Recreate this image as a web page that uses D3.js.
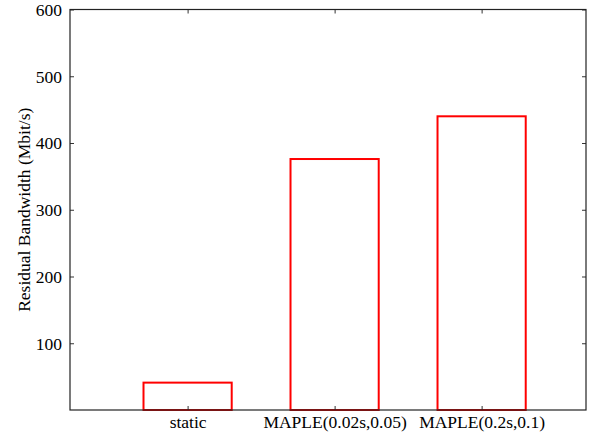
<!DOCTYPE html>
<html><head><meta charset="utf-8">
<script src="https://cdn.jsdelivr.net/npm/d3@7"></script>
<style>body{margin:0;background:#fff}svg{display:block}</style>
</head><body><svg id="c" width="592" height="434"></svg>
<script>
const categories = ["static", "MAPLE(0.02s,0.05)", "MAPLE(0.2s,0.1)"];
const values = [41, 376, 440];
const yTicks = [100, 200, 300, 400, 500, 600];

const FONT = "'Liberation Serif', 'Times New Roman', Times, serif";
const svg = d3.select("#c");
const L = 70, R = 586, T = 9.5, B = 410;
const x = d3.scaleLinear().domain([-0.8, 2.71]).range([L, R]);
const y = d3.scaleLinear().domain([0, 600]).range([B, T]);
const bw = 0.6;
const fs = 17.5;

// bars
svg.append("g").selectAll("rect").data(values).join("rect")
  .attr("x", (d, i) => x(i - bw / 2))
  .attr("y", d => y(d))
  .attr("width", (d, i) => x(i + bw / 2) - x(i - bw / 2))
  .attr("height", d => y(0) - y(d))
  .attr("fill", "none").attr("stroke", "#ff0000").attr("stroke-width", 2);

function styleAxis(g) {
  g.attr("font-family", FONT).attr("font-size", fs);
  g.select(".domain").remove();
  g.selectAll("text").style("font-family", FONT).style("font-size", fs + "px").attr("fill", "#000");
  g.selectAll("line").attr("stroke", "#333");
}

// left axis with inward ticks
const gl = svg.append("g").attr("transform", `translate(${L},0)`)
  .call(d3.axisLeft(y).tickValues(yTicks).tickSizeInner(-4).tickSizeOuter(0).tickPadding(8));
styleAxis(gl);
gl.selectAll("text").attr("dy", "0.34em");
// right axis inward ticks
const gr = svg.append("g").attr("transform", `translate(${R},0)`)
  .call(d3.axisRight(y).tickValues(yTicks).tickSizeInner(-4).tickSizeOuter(0).tickFormat(""));
styleAxis(gr);

// bottom axis
const gb = svg.append("g").attr("transform", `translate(0,${B})`)
  .call(d3.axisBottom(x).tickValues([0, 1, 2]).tickSizeInner(-4).tickSizeOuter(0).tickPadding(6)
    .tickFormat((d) => categories[d]));
styleAxis(gb);
// top axis
const gt = svg.append("g").attr("transform", `translate(0,${T})`)
  .call(d3.axisTop(x).tickValues([0, 1, 2]).tickSizeInner(-4).tickSizeOuter(0).tickFormat(""));
styleAxis(gt);

// frame
svg.append("rect").attr("x", L).attr("y", T).attr("width", R - L).attr("height", B - T)
  .attr("fill", "none").attr("stroke", "#222").attr("stroke-width", 1.2);

// y label
svg.append("text")
  .attr("transform", `translate(30,${(T + B) / 2}) rotate(-90)`)
  .attr("text-anchor", "middle")
  .style("font-family", FONT)
  .style("font-size", fs + "px")
  .attr("fill", "#000")
  .text("Residual Bandwidth (Mbit/s)");
</script></body></html>
